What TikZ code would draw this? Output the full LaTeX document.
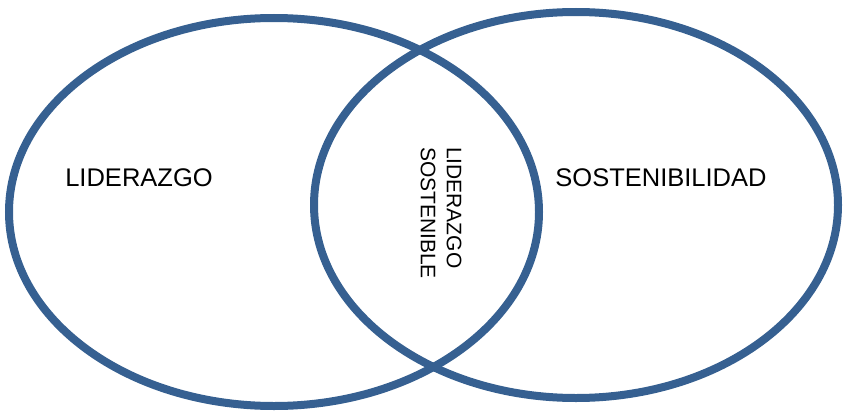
\documentclass[tikz,border=0pt]{standalone}
\usepackage{fontspec}
\setmainfont{Liberation Sans}
\definecolor{vennblue}{RGB}{54,96,145}
\begin{document}
\begin{tikzpicture}[x=1pt, y=-1pt]
\tikzset{ring/.style={draw=vennblue, line width=8pt},
         lbl/.style={font=\fontsize{25.5}{28}\selectfont, inner sep=0pt},
         inner/.style={font=\fontsize{21}{26}\selectfont, inner sep=0pt, rotate=-90, align=left}}
\useasboundingbox (0,0) rectangle (846,412);
\draw[ring] (274,212) ellipse [x radius=265, y radius=194];
\draw[ring] (576,205) ellipse [x radius=262, y radius=193];
\node[lbl] (L) at (139,178) {LIDERAZGO};
\node[lbl] (S) at (661,178) {SOSTENIBILIDAD};
\node[inner] (LS) at (441,213) {LIDERAZGO\\SOSTENIBLE};
\end{tikzpicture}
\end{document}
